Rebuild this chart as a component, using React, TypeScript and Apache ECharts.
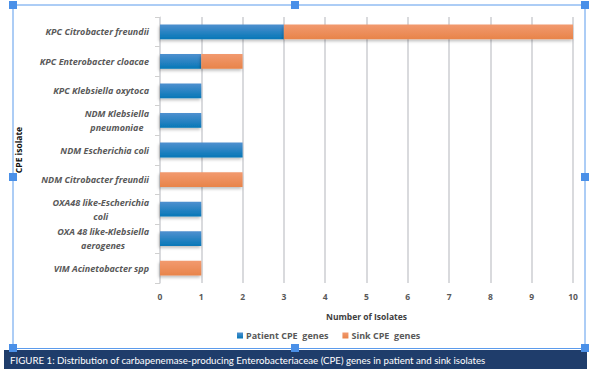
import React, { useEffect, useRef } from "react";
import * as echarts from "echarts";

const categories = [
  "KPC Citrobacter freundii",
  "KPC Enterobacter cloacae",
  "KPC Klebsiella oxytoca",
  "NDM Klebsiella\npneumoniae",
  "NDM Escherichia coli",
  "NDM Citrobacter freundii",
  "OXA48 like-Escherichia\ncoli",
  "OXA 48 like-Klebsiella\naerogenes",
  "VIM Acinetobacter spp",
];
const patientValues = [3, 1, 1, 1, 2, 0, 1, 1, 0];
const sinkValues = [7, 1, 0, 0, 0, 2, 0, 0, 1];
const seriesNames = ["Patient CPE  genes", "Sink CPE  genes"];
const xTicks = [0, 10];
const caption =
  "FIGURE 1: Distribution of carbapenemase-producing Enterobacteriaceae (CPE) genes in patient and sink isolates";
const yAxisTitle = "CPE isolate";
const xAxisTitle = "Number of Isolates";

const blueGrad = new echarts.graphic.LinearGradient(0, 0, 0, 1, [
  { offset: 0, color: "#4f90cf" },
  { offset: 1, color: "#0677b7" },
]);
const orangeGrad = new echarts.graphic.LinearGradient(0, 0, 0, 1, [
  { offset: 0, color: "#f29a6f" },
  { offset: 1, color: "#e8844a" },
]);

const handle = (x: number, y: number) => ({
  type: "rect",
  shape: { x: x - 4, y: y - 4, width: 8, height: 8 },
  style: { fill: "#4a90e8" },
  z: 20,
});

export default function App() {
  const ref = useRef<HTMLDivElement>(null);
  useEffect(() => {
    document.body.style.margin = "0";
    const chart = echarts.init(ref.current!, null, { renderer: "svg" });
    const labelFont = {
      fontFamily: "Open Sans",
      fontSize: 8.5,
      fontWeight: "bold" as const,
      color: "#595959",
    };
    const yLabelFont = {
      ...labelFont,
      fontSize: 9,
      fontStyle: "italic" as const,
      lineHeight: 14,
    };
    chart.setOption({
      animation: false,
      backgroundColor: "#ffffff",
      grid: { left: 160, right: 17, top: 17, bottom: 86 },
      xAxis: {
        type: "value",
        min: xTicks[0],
        max: xTicks[1],
        interval: 1,
        axisLine: { show: false },
        axisTick: { show: false },
        axisLabel: { ...labelFont, margin: 9 },
        splitLine: { lineStyle: { color: "#d9dadd", width: 2 } },
        name: xAxisTitle,
        nameLocation: "middle",
        nameGap: 29,
        nameTextStyle: { ...labelFont, color: "#404040" },
      },
      yAxis: {
        type: "category",
        data: categories,
        inverse: true,
        axisLine: { show: true, lineStyle: { color: "#d9dadd", width: 1 } },
        axisTick: { show: true, length: 5, lineStyle: { color: "#d0d0d0" } },
        axisLabel: {
          ...yLabelFont,
          margin: 11,
          align: "right",
          formatter: (v: string) =>
            v.indexOf("\n") >= 0
              ? v
                  .split("\n")
                  .map((l) => `{c|${l}}`)
                  .join("\n")
              : v,
          rich: { c: { ...yLabelFont, align: "center" } },
        },
      },
      legend: {
        top: 326,
        left: 232,
        itemWidth: 6,
        itemHeight: 6,
        itemGap: 14,
        icon: "rect",
        textStyle: { ...labelFont, fontSize: 9, color: "#595959", padding: [0, 0, 0, -2] },
        data: seriesNames,
      },
      series: [
        {
          name: seriesNames[0],
          type: "bar",
          stack: "total",
          barWidth: "50%",
          data: patientValues,
          itemStyle: {
            color: blueGrad,
            shadowBlur: 3,
            shadowOffsetY: 2,
            shadowOffsetX: -1,
            shadowColor: "rgba(0,0,0,0.25)",
          },
        },
        {
          name: seriesNames[1],
          type: "bar",
          stack: "total",
          barWidth: "50%",
          data: sinkValues,
          itemStyle: {
            color: orangeGrad,
            shadowBlur: 3,
            shadowOffsetY: 2,
            shadowOffsetX: -1,
            shadowColor: "rgba(0,0,0,0.25)",
          },
        },
      ],
      graphic: [
        {
          type: "text",
          x: 18,
          y: 150,
          rotation: Math.PI / 2,
          style: {
            text: yAxisTitle,
            fontFamily: "Open Sans",
            fontSize: 8.5,
            fontWeight: "bold",
            fill: "#111111",
            align: "center",
            verticalAlign: "middle",
          },
        },
        {
          type: "rect",
          shape: { x: 4, y: 350, width: 583, height: 19 },
          style: { fill: "#1f3d6b" },
          z: 10,
        },
        {
          type: "text",
          x: 10,
          y: 359.5,
          style: {
            text: caption,
            fontFamily: "Lato",
            fontSize: 9.7,
            fill: "#ffffff",
            verticalAlign: "middle",
          },
          z: 11,
        },
        {
          type: "polyline",
          shape: { points: [[13, 348], [13, 5], [585, 5], [585, 348]] },
          style: { stroke: "#5b9bec", lineWidth: 1, fill: "none" },
          z: 15,
        },
        {
          type: "line",
          shape: { x1: 13, y1: 348.5, x2: 585, y2: 348.5 },
          style: { stroke: "#5b9bec", lineWidth: 1 },
          z: 15,
        },
        handle(13, 5),
        handle(295, 5),
        handle(585, 5),
        handle(13, 177),
        handle(585, 177),
        handle(13, 348),
        handle(295, 348),
        handle(585, 348),
      ],
    });
    return () => chart.dispose();
  }, []);
  return (
    <div
      ref={ref}
      style={{ position: "absolute", left: 0, top: 0, width: 590, height: 369 }}
    />
  );
}
